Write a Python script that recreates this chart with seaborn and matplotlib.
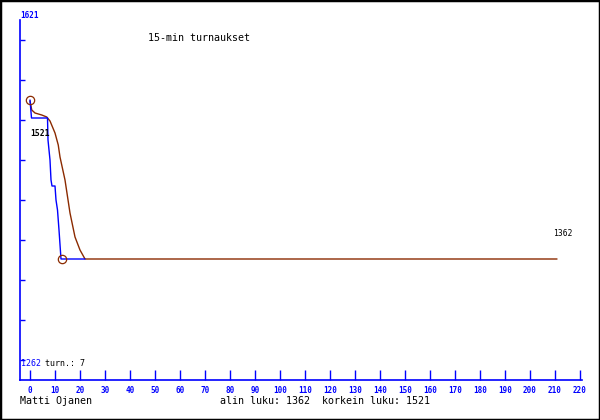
import matplotlib
matplotlib.use("Agg")
import matplotlib.pyplot as plt
from matplotlib.patches import Rectangle
import seaborn as sns
import pandas as pd

# rating history
blue_x = [0, 0.6, 7.0, 7.2, 8.0, 8.4, 8.8, 10.0, 10.4, 11.0, 11.6, 12.4, 22]
blue_y = [1521, 1503, 1503, 1481, 1461, 1441, 1435, 1435, 1421, 1411, 1391, 1362, 1362]
brown_x = [0, 0.7, 2, 4.7, 6.7, 8, 10, 11.3, 12, 14, 16, 18, 20, 22, 210.8]
brown_y = [1520, 1511, 1508, 1506, 1504, 1500, 1488, 1476, 1464, 1441, 1408, 1384, 1371, 1362, 1362]
circle_x = [0, 12.8]
circle_y = [1521, 1362]
x_ticks = list(range(0, 221, 10))
y_ticks = [1261, 1301, 1341, 1381, 1421, 1461, 1501, 1541, 1581]
y_max_label = "1621"
y_min_label = "1262"
high, low = 1521, 1362
title = "15-min turnaukset"
author = "Matti Ojanen"
n_turn = 7

BLUE = "#0000ff"
BROWN = "#8b2a00"
MONO = "DejaVu Sans Mono"

sns.set_style("white")
plt.rcParams['font.family'] = [MONO]
plt.rcParams['text.color'] = 'black'

df = pd.DataFrame({
    'x': blue_x + brown_x,
    'y': blue_y + brown_y,
    'series': ['blue'] * len(blue_x) + ['brown'] * len(brown_x),
})

fig = plt.figure(figsize=(6, 4.2), dpi=100)
ax = fig.add_axes([20 / 600, 40 / 420, 562 / 600, 360 / 420])

sns.lineplot(data=df, x='x', y='y', hue='series', hue_order=['brown', 'blue'],
             palette={'blue': BLUE, 'brown': BROWN}, estimator=None, sort=False,
             legend=False, linewidth=1.0, ax=ax)
ax.plot(circle_x, circle_y, 'o', ms=6, mfc='none', mec=BROWN, mew=0.9)

ax.set_xlim(-4, 220.8)
ax.set_ylim(1241, 1601)
ax.set_xlabel('')
ax.set_ylabel('')

for s in ['top', 'right']:
    ax.spines[s].set_visible(False)
for s in ['left', 'bottom']:
    ax.spines[s].set_color(BLUE)
    ax.spines[s].set_linewidth(1.2)

ax.set_xticks(x_ticks)
ax.set_xticklabels([str(t) for t in x_ticks], color=BLUE, fontweight='bold', fontsize=5.5)
ax.tick_params(axis='x', bottom=True, direction='in', length=7.2, width=1, color=BLUE, pad=4)
ax.set_yticks(y_ticks)
ax.tick_params(axis='y', left=True, direction='in', length=3.8, width=1, color=BLUE,
               labelleft=False)

# scale end labels
ax.text(0, 1.0, y_max_label, transform=ax.transAxes, color=BLUE, fontweight='bold',
        fontsize=5.5, va='bottom', ha='left')
ax.annotate(y_min_label, xy=(0, y_ticks[0]), xycoords=('axes fraction', 'data'),
            xytext=(1, -3), textcoords='offset pixels', color=BLUE, fontsize=6,
            va='center', ha='left')
ax.annotate("turn.: %d" % n_turn, xy=(0, y_ticks[0]), xycoords=('axes fraction', 'data'),
            xytext=(25, -3), textcoords='offset pixels', color='black', fontsize=6,
            va='center', ha='left')

# high / low values
ax.annotate(str(high), xy=(0, high), xytext=(0, -33), textcoords='offset pixels',
            fontsize=5.8, fontweight='bold', va='center', ha='left')
ax.annotate(str(low), xy=(brown_x[-1], low), xytext=(-4, 26), textcoords='offset pixels',
            fontsize=5.8, va='center', ha='left')

fig.text(148 / 600, 1 - 38 / 420, title, fontsize=7.2, va='center', ha='left')
fig.text(20 / 600, 1 - 401 / 420, author, fontsize=7.2, va='center', ha='left')
fig.text(220 / 600, 1 - 401 / 420, "alin luku: %d  korkein luku: %d" % (low, high),
         fontsize=7.2, va='center', ha='left')

fig.patches.append(Rectangle((0, 0), 1, 1, transform=fig.transFigure, fill=False,
                             edgecolor='black', linewidth=2.5))

fig.savefig('out.png', dpi=100)
